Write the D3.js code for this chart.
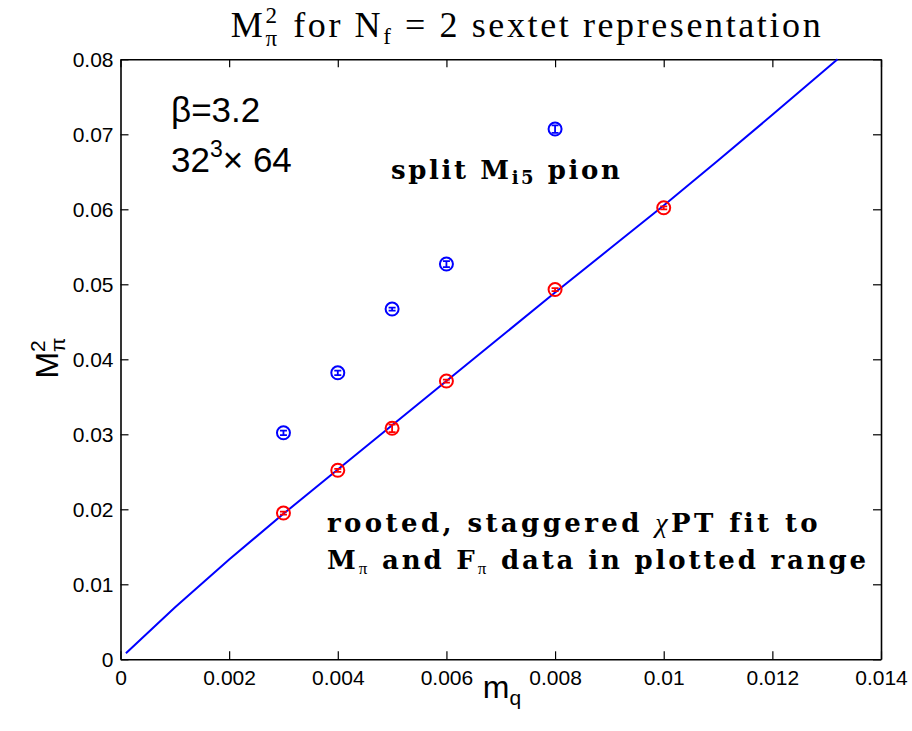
<!DOCTYPE html>
<html><head><meta charset="utf-8">
<script src="https://cdn.jsdelivr.net/npm/d3@7"></script>
<style>body{margin:0;background:#fff}svg{display:block}</style>
</head><body>
<svg id="chart" width="912" height="731"></svg>
<script>
// ---- data ----
const mq = [0.003, 0.004, 0.005, 0.006, 0.008, 0.010];
const redM2 = [0.0195, 0.0252, 0.0308, 0.0371, 0.0493, 0.0602];
const redErr = [0.0002, 0.0002, 0.0005, 0.0002, 0.0002, 0.0002];
const blueMq = [0.003, 0.004, 0.005, 0.006, 0.008];
const blueM2 = [0.0302, 0.0382, 0.0467, 0.0527, 0.0707];
const blueErr = [0.0003, 0.0003, 0.0002, 0.0004, 0.0005];
const fitMq = [0.0001, 0.001, 0.002, 0.003, 0.004, 0.005, 0.006, 0.007, 0.008, 0.009, 0.010, 0.011, 0.012, 0.0132];
const fitM2 = [0.0008, 0.0069, 0.0133, 0.0194, 0.0253, 0.0312, 0.0371, 0.0430, 0.0489, 0.0547, 0.0605, 0.0665, 0.0726, 0.0800];
const xTicks = [0, 0.002, 0.004, 0.006, 0.008, 0.01, 0.012, 0.014];
const xTickLabels = ["0", "0.002", "0.004", "0.006", "0.008", "0.01", "0.012", "0.014"];
const yTicks = [0, 0.01, 0.02, 0.03, 0.04, 0.05, 0.06, 0.07, 0.08];
const yTickLabels = ["0", "0.01", "0.02", "0.03", "0.04", "0.05", "0.06", "0.07", "0.08"];

const svg = d3.select("#chart");
const L = 120.5, R = 881, T = 59.3, B = 659.3;
const x = d3.scaleLinear().domain([0, 0.014]).range([L, R]);
const y = d3.scaleLinear().domain([0, 0.08]).range([B, T]);

const sans = "Liberation Sans, Arial, sans-serif";
const serif = "Liberation Serif, Times New Roman, serif";
const bserif = "DejaVu Serif, serif";

// axes (ticks inward, box)
const tl = 8;
const gx = svg.append("g").attr("transform", `translate(0,${B})`)
  .call(d3.axisBottom(x).tickValues(xTicks).tickFormat((d,i)=>xTickLabels[i]).tickSizeInner(-tl).tickSizeOuter(0).tickPadding(11));
const gxt = svg.append("g").attr("transform", `translate(0,${T})`)
  .call(d3.axisTop(x).tickValues(xTicks).tickFormat("").tickSizeInner(-tl).tickSizeOuter(0));
const gy = svg.append("g").attr("transform", `translate(${L},0)`)
  .call(d3.axisLeft(y).tickValues(yTicks).tickFormat((d,i)=>yTickLabels[i]).tickSizeInner(-tl).tickSizeOuter(0).tickPadding(7));
const gyr = svg.append("g").attr("transform", `translate(${R},0)`)
  .call(d3.axisRight(y).tickValues(yTicks).tickFormat("").tickSizeInner(-tl).tickSizeOuter(0));
[gx,gxt,gy,gyr].forEach(g=>{
  g.select(".domain").attr("stroke","#000").attr("stroke-width",1.6);
  g.selectAll(".tick line").attr("stroke","#000").attr("stroke-width",1.2);
  g.selectAll(".tick text").attr("font-family",sans).attr("font-size",21).attr("fill","#000");
});

// fit line
const line = d3.line().x((d,i)=>x(fitMq[i])).y((d,i)=>y(fitM2[i]));
svg.append("path").datum(fitMq).attr("d", line).attr("fill","none").attr("stroke","#0000ff").attr("stroke-width",2);

// points with error bars
function drawPts(xs, ys, es, col){
  const g = svg.append("g");
  const cap = 3.5;
  xs.forEach((xv,i)=>{
    const cx = x(xv), cy = y(ys[i]), y1 = y(ys[i]-es[i]), y2 = y(ys[i]+es[i]);
    g.append("path").attr("d",`M${cx},${y1}V${y2}M${cx-cap},${y1}H${cx+cap}M${cx-cap},${y2}H${cx+cap}`)
      .attr("stroke",col).attr("stroke-width",1.8).attr("fill","none");
    g.append("circle").attr("cx",cx).attr("cy",cy).attr("r",6.5)
      .attr("fill","none").attr("stroke",col).attr("stroke-width",2);
  });
}
drawPts(mq, redM2, redErr, "#ff0000");
drawPts(blueMq, blueM2, blueErr, "#0000ff");

// measure helper
function measure(t, fam, size, ls){
  const el = svg.append("text").attr("font-family",fam).attr("font-size",size).attr("letter-spacing",ls||0).style("white-space","pre").text(t);
  const w = el.node().getComputedTextLength(); el.remove(); return w;
}

// title: one text element with tspans
{
  const fs = 36, sfs = 23, ls = 2.6;
  const t = svg.append("text").attr("font-family",serif).attr("font-size",fs).attr("fill","#000")
    .attr("letter-spacing", ls).style("white-space","pre");
  const w2 = measure("2", serif, sfs, ls);
  t.append("tspan").text("M");
  t.append("tspan").attr("font-size",sfs).attr("dy",-14).text("2");
  t.append("tspan").attr("font-size",sfs).attr("dx",-w2).attr("dy",23).text("π");
  t.append("tspan").attr("dy",-9).attr("dx", 2).text(" for N");
  t.append("tspan").attr("font-size",sfs).attr("dy",7).text("f");
  t.append("tspan").attr("dy",-7).text(" = 2 sextet representation");
  const w = t.node().getComputedTextLength();
  t.attr("x", 527 - (w - w2 + 2)/2).attr("y", 37);
}

// y label
{
  const fs = 32, sfs = 21;
  const w2 = measure("2", sans, sfs);
  const wp = measure("π", sans, sfs);
  const wM = measure("M", sans, fs);
  const total = wM + Math.max(w2, wp);
  const t = svg.append("text").attr("font-family",sans).attr("font-size",fs).attr("fill","#000")
    .attr("transform",`translate(58,${358 + total/2}) rotate(-90)`);
  t.append("tspan").text("M");
  t.append("tspan").attr("font-size",sfs).attr("dy",-13).text("2");
  t.append("tspan").attr("font-size",sfs).attr("dx",-w2).attr("dy",20).text("π");
}
// x label
{
  const t = svg.append("text").attr("font-family",sans).attr("font-size",32).attr("fill","#000");
  t.append("tspan").text("m");
  t.append("tspan").attr("font-size",21).attr("dy",7).text("q");
  const w = t.node().getComputedTextLength();
  t.attr("x", 502 - w/2).attr("y", 698);
}

// beta / lattice annotation
svg.append("text").attr("x",171).attr("y",122).attr("font-family",sans).attr("font-size",35).attr("fill","#000").text("β=3.2");
{
  const t = svg.append("text").attr("x",171).attr("y",172).attr("font-family",sans).attr("font-size",35)
    .attr("fill","#000").style("white-space","pre");
  t.append("tspan").text("32");
  t.append("tspan").attr("font-size",23).attr("dy",-15).text("3");
  t.append("tspan").attr("dy",15).text("× 64");
}

// bold serif annotations (single text each)
function boldLine(x0, y0, pieces, ls){
  const t = svg.append("text").attr("x",x0).attr("y",y0).attr("font-family",bserif)
    .attr("font-size",26).attr("font-weight","bold").attr("letter-spacing",ls)
    .attr("fill","#000").style("white-space","pre");
  pieces.forEach(p=>{
    const ts = t.append("tspan").text(p.t);
    if (p.size) ts.attr("font-size",p.size);
    if (p.dy) ts.attr("dy",p.dy);
    if (p.dx) ts.attr("dx",p.dx);
    if (p.family) ts.attr("font-family",p.family);
    if (p.weight) ts.attr("font-weight",p.weight);
    if (p.style) ts.attr("font-style",p.style);
  });
  return t;
}
boldLine(391, 179, [
  {t:"split M"},
  {t:"i5", size:18, dy:5},
  {t:" pion", dy:-5}
], 2.6);
boldLine(327, 532, [
  {t:"rooted, staggered "},
  {t:"χ", weight:"normal", style:"italic", family:serif, size:28},
  {t:"PT fit to"}
], 3.4);
boldLine(327, 569, [
  {t:"M"},
  {t:"π", size:17, dy:5, weight:"normal", family:serif},
  {t:" and F", dy:-5},
  {t:"π", size:17, dy:5, weight:"normal", family:serif},
  {t:" data in plotted range", dy:-5}
], 2.85);
</script>
</body></html>
